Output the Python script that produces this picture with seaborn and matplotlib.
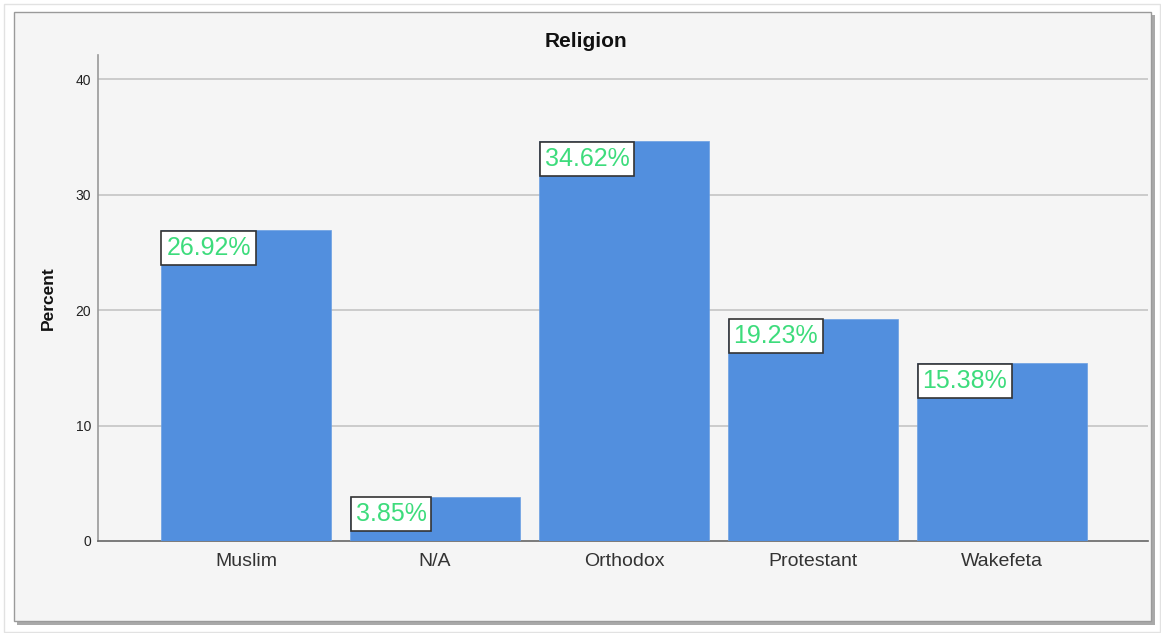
import matplotlib
matplotlib.use("Agg")
import matplotlib.pyplot as plt
import seaborn as sns
import pandas as pd
from matplotlib.patches import Rectangle

categories = ["Muslim", "N/A", "Orthodox", "Protestant", "Wakefeta"]
percents = [26.92, 3.85, 34.62, 19.23, 15.38]
labels = ["26.92%", "3.85%", "34.62%", "19.23%", "15.38%"]
yticks = [0, 10, 20, 30, 40]

df = pd.DataFrame({"Religion": categories, "Percent": percents})

sns.set_theme(style="white")
plt.rcParams['font.family'] = ['Liberation Sans', 'DejaVu Sans']

W, H = 1161, 633
fig = plt.figure(figsize=(W / 100, H / 100), dpi=100)
fig.patch.set_facecolor("white")

def px(x0, y0, x1, y1):
    return (x0 / W, 1 - y1 / H), (x1 - x0) / W, (y1 - y0) / H

# outer faint frame
xy, w, h = px(4, 4, 1160, 632)
fig.patches.append(Rectangle(xy, w, h, transform=fig.transFigure, facecolor="white",
                             edgecolor="#e2e2e2", linewidth=1.0, zorder=0))
# shadow
xy, w, h = px(17, 15, 1155, 625)
fig.patches.append(Rectangle(xy, w, h, transform=fig.transFigure, facecolor="#a9a9a9",
                             edgecolor="none", zorder=0.2))
# panel
xy, w, h = px(14, 12, 1151, 621)
fig.patches.append(Rectangle(xy, w, h, transform=fig.transFigure, facecolor="#f5f5f5",
                             edgecolor="#9a9a9a", linewidth=1.0, zorder=0.5))

ax = fig.add_axes([98 / W, 1 - 541 / H, (1148 - 98) / W, (541 - 55) / H])
ax.set_facecolor("#f5f5f5")
ax.set_zorder(1)

sns.barplot(data=df, x="Religion", y="Percent", color="#528fde", saturation=1,
            width=0.9, ax=ax, zorder=3, edgecolor="#6a9fe3", linewidth=0.5)

ax.set_xlim(-0.783, 4.772)
ax.set_ylim(0, 42.08)
ax.set_yticks(yticks)
ax.set_yticklabels([str(t) for t in yticks], fontsize=10, color="#222222")
ax.tick_params(axis="x", labelsize=14, colors="#333333", length=0, pad=9)
ax.tick_params(axis="y", length=0, pad=5)
for t in yticks[1:]:
    ax.axhline(t, color="#c4c4c4", linewidth=1.2, zorder=1)

for s in ["top", "right"]:
    ax.spines[s].set_visible(False)
ax.spines["left"].set_color("#999999")
ax.spines["left"].set_linewidth(1.2)
ax.spines["bottom"].set_color("#666666")
ax.spines["bottom"].set_linewidth(1.2)

ax.set_xlabel("")
ax.set_ylabel("Percent", fontsize=12.5, fontweight="bold", color="#111111", labelpad=14)
ax.set_title("Religion", fontsize=15, fontweight="bold", color="#111111", pad=6,
             x=(586 - 98) / (1148 - 98))

for i, (v, lab) in enumerate(zip(percents, labels)):
    ax.annotate(lab, xy=(i - 0.45, v), xytext=(4, -4), textcoords="offset points",
                ha="left", va="top", fontsize=18, color="#3ddc7c", zorder=5,
                bbox=dict(boxstyle="square,pad=0.2", facecolor="white",
                          edgecolor="#333333", linewidth=1.2))

fig.savefig("out.png", dpi=100, facecolor=fig.get_facecolor())
